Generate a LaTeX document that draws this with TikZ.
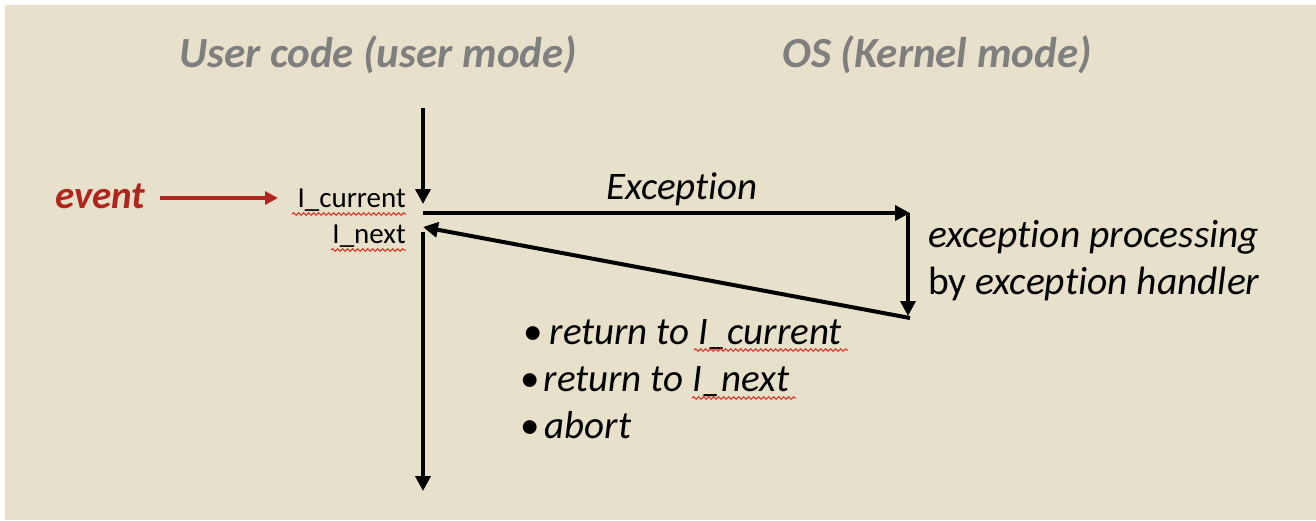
\documentclass[tikz,border=0pt]{standalone}
\usepackage{fontspec}
\setmainfont[Ligatures=NoCommon]{Carlito}
\usetikzlibrary{arrows.meta,decorations.pathmorphing}
\definecolor{bg}{HTML}{E7E0CB}
\definecolor{titlegray}{HTML}{7F7F7F}
\definecolor{evred}{HTML}{B0261E}
\definecolor{squig}{HTML}{E03020}
\tikzset{
  flow/.style={line width=4pt,-{Triangle[length=15pt,width=15pt]}},
  evarrow/.style={evred,line width=3.6pt,-{Triangle[length=13pt,width=13pt]}},
  title/.style={anchor=base,text=titlegray,font=\fontsize{43}{48}\selectfont\bfseries\itshape},
  lbl/.style={anchor=base east,font=\fontsize{29}{34}\selectfont,inner sep=0pt},
  big/.style={anchor=base west,font=\fontsize{39}{44}\selectfont,inner sep=0pt},
  wavy/.style={squig,line width=1pt,decorate,decoration={snake,segment length=5pt,amplitude=1.3pt}}
}
\begin{document}
\begin{tikzpicture}[x=1pt,y=-1pt]
\useasboundingbox (0,0) rectangle (1316,520);
\fill[white] (0,0) rectangle (1316,520);
\fill[bg] (5,5) rectangle (1316,520);

\node[title] (t1) at (378,67) {User code (user mode)};
\node[title] (t2) at (937,67) {OS (Kernel mode)};

\coordinate (top) at (423,108);
\coordinate (cur) at (423,204);
\coordinate (exs) at (423,213);
\coordinate (exe) at (910,213);
\coordinate (hs) at (908,213);
\coordinate (he) at (908,316);
\coordinate (rs) at (910,318);
\coordinate (re) at (423,227);
\coordinate (ns) at (423,232);
\coordinate (bot) at (423,491);

\draw[flow] (top) -- (cur);
\draw[flow] (exs) -- (exe);
\draw[flow] (hs) -- (he);
\draw[flow] (rs) -- (re);
\draw[flow] (ns) -- (bot);

\node[big,anchor=base,font=\fontsize{39}{44}\selectfont\itshape] (exc) at (682,199) {Exception};

\node[big,font=\fontsize{39}{44}\selectfont\bfseries\itshape,text=evred] (ev) at (55,208) {event};
\node[lbl] (icur) at (406,207) {I\_current};
\node[lbl] (inext) at (406,243) {I\_next};
\coordinate (evs) at (160,198);
\coordinate (evend) at (278,198);
\draw[evarrow] (evs) -- (evend);

\draw[wavy] (292,214) -- (406,214);
\draw[wavy] (331,250) -- (406,250);

\node[big,font=\fontsize{39.5}{44}\selectfont\itshape] (p1) at (928,247) {exception processing};
\node[big,font=\fontsize{39.5}{44}\selectfont] (p2) at (928,294) {by \textit{exception handler}};

\node[big] (b1) at (523,344) {•\hspace{7pt}\textit{return to I\_current}};
\node[big] (b2) at (520,391) {•\hspace{4pt}\textit{return to I\_next}};
\node[big] (b3) at (520,438) {•\hspace{5pt}\textit{abort}};

\draw[wavy] (694,350) -- (848,350);
\draw[wavy] (692,398) -- (796,398);
\end{tikzpicture}
\end{document}
